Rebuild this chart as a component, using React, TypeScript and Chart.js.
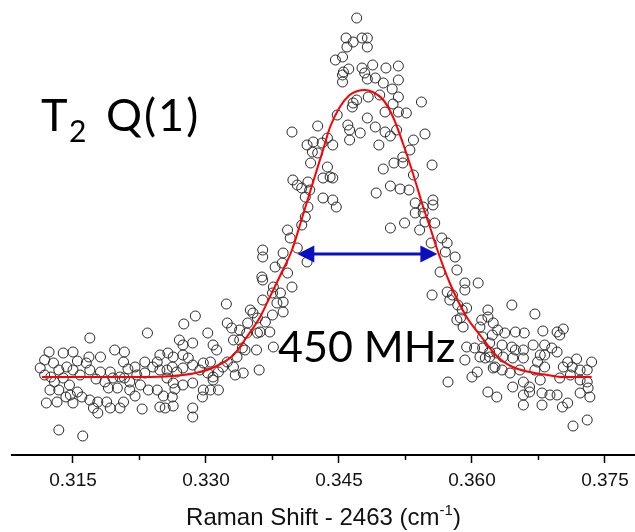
import React, { useEffect, useRef } from "react";
import { Chart, registerables } from "chart.js";

Chart.register(...registerables);

// x: Raman shift - 2463 (cm^-1), y: intensity (arbitrary units, y axis hidden)
const X_MIN = 0.30812;
const X_MAX = 0.37839;
const Y_MIN = 0;
const Y_MAX = 455;
const X_MAJOR_TICKS = [0.315, 0.33, 0.345, 0.36, 0.375];
const X_MINOR_TICKS = [0.3225, 0.3375, 0.3525, 0.3675];

const OBS_LEFT: [number, number][] = [
  [0.3169, 117], [0.3234, 122], [0.3123, 103], [0.3118, 95], [0.3139, 102], [0.315, 103],
  [0.3197, 105], [0.3208, 103], [0.3207, 93], [0.3168, 98], [0.3181, 98], [0.3155, 94],
  [0.3165, 92], [0.3143, 88], [0.3134, 85], [0.3169, 85], [0.3181, 83], [0.3192, 83],
  [0.3203, 78], [0.322, 88], [0.3231, 93], [0.3118, 80], [0.3125, 78], [0.3129, 73],
  [0.3139, 77], [0.315, 85], [0.3158, 80], [0.3186, 73], [0.3195, 77], [0.3208, 77],
  [0.3214, 73], [0.3222, 80], [0.3231, 82], [0.3124, 65], [0.3134, 65], [0.3147, 60],
  [0.3155, 63], [0.319, 67], [0.32, 67], [0.3214, 65], [0.322, 59], [0.3235, 65],
  [0.312, 52], [0.3132, 53], [0.3142, 58], [0.315, 52], [0.316, 58], [0.3169, 55],
  [0.3178, 53], [0.3188, 53], [0.3173, 47], [0.3178, 42], [0.3192, 47], [0.3203, 47],
  [0.3207, 53], [0.3228, 46], [0.3134, 25], [0.3161, 19],
  [0.3113, 87], [0.3128, 92], [0.3146, 70], [0.3176, 76], [0.3212, 86], [0.3226, 70],
];

const OBS_RISE: [number, number][] = [
  [0.3323, 151], [0.3288, 139], [0.3275, 131], [0.3302, 122], [0.327, 115], [0.3274, 110],
  [0.3285, 112], [0.3308, 110], [0.3312, 105], [0.3324, 132], [0.3329, 127], [0.3338, 125],
  [0.3347, 132], [0.3358, 137], [0.335, 145], [0.3367, 133], [0.3364, 155], [0.3375, 162],
  [0.338, 152], [0.3361, 123], [0.3372, 123], [0.3331, 115], [0.3346, 122], [0.3358, 122],
  [0.3338, 115], [0.3341, 107], [0.3335, 98], [0.3324, 93], [0.3331, 88], [0.3344, 105],
  [0.3357, 105], [0.3376, 108], [0.336, 85], [0.3342, 82], [0.3333, 80], [0.3319, 88],
  [0.3314, 83], [0.3308, 78], [0.3305, 93], [0.3297, 92], [0.3293, 85], [0.3285, 90],
  [0.328, 97], [0.3274, 100], [0.3263, 98], [0.3257, 102], [0.3248, 100], [0.3245, 93],
  [0.324, 88], [0.3248, 85], [0.3256, 85], [0.3262, 88], [0.3267, 83], [0.3274, 87],
  [0.3285, 72], [0.3274, 70], [0.3263, 72], [0.3256, 77], [0.3245, 65], [0.3252, 59],
  [0.3262, 58], [0.3265, 66], [0.3297, 65], [0.3296, 58], [0.3305, 65], [0.3314, 65],
  [0.3308, 75], [0.3302, 82], [0.3248, 48], [0.3254, 47], [0.3263, 49], [0.3285, 47],
  [0.3285, 38],
];

const OBS_EDGE: [number, number][] = [
  [0.3397, 323], [0.3426, 329], [0.3448, 340], [0.3414, 310], [0.3421, 313], [0.3431, 312],
  [0.342, 303], [0.3426, 302], [0.3437, 317], [0.3443, 310], [0.3418, 292], [0.3437, 288],
  [0.344, 278], [0.3432, 277], [0.3443, 277], [0.3398, 275], [0.3403, 270], [0.3408, 267],
  [0.3415, 273], [0.3417, 265], [0.3412, 258], [0.3432, 257], [0.3443, 255], [0.3447, 248],
  [0.3415, 248], [0.3412, 238], [0.3408, 230], [0.3392, 225], [0.3395, 217], [0.3364, 205],
  [0.3364, 198], [0.3387, 202], [0.3403, 207], [0.3414, 193], [0.3378, 188], [0.3386, 192],
  [0.3392, 182], [0.3397, 168], [0.3363, 178], [0.3364, 175], [0.3376, 168], [0.3384, 162],
  [0.3387, 153], [0.3387, 143], [0.3375, 140], [0.3353, 142],
];

const OBS_PEAK: [number, number][] = [
  [0.347, 437], [0.3458, 417], [0.3466, 413], [0.3476, 417], [0.3482, 417], [0.3482, 408],
  [0.3459, 408], [0.3454, 398], [0.3446, 395], [0.3461, 386], [0.3455, 383], [0.3454, 380],
  [0.3454, 373], [0.3476, 387], [0.3479, 382], [0.3482, 376], [0.347, 355], [0.3466, 352],
  [0.3465, 348], [0.346, 330], [0.3462, 325], [0.3474, 322], [0.3482, 337], [0.3483, 358],
  [0.3462, 315],
  [0.3488, 390], [0.3503, 387], [0.3517, 389], [0.3491, 377], [0.35, 372], [0.3517, 375],
  [0.351, 366], [0.3496, 360], [0.3517, 358], [0.3511, 351], [0.3502, 343], [0.3517, 343],
  [0.3526, 342], [0.3543, 353], [0.3491, 328], [0.3502, 323], [0.3508, 319], [0.3515, 325],
  [0.3495, 310], [0.3534, 315], [0.3547, 321], [0.353, 305], [0.3522, 298], [0.3512, 292],
  [0.3522, 292], [0.35, 286], [0.3555, 290], [0.3534, 280], [0.3508, 269], [0.3519, 266],
  [0.3529, 265], [0.3492, 262], [0.3536, 252], [0.3545, 248], [0.3556, 255], [0.3556, 250],
  [0.3536, 242], [0.3545, 242], [0.3547, 233], [0.3558, 232], [0.3524, 232], [0.3508, 227],
];

const OBS_FALL: [number, number][] = [
  [0.3541, 225], [0.3566, 217], [0.3554, 212], [0.3572, 212], [0.357, 203], [0.3581, 198],
  [0.3564, 183], [0.3583, 185], [0.3555, 160], [0.3572, 163], [0.3592, 172], [0.3592, 165],
  [0.3607, 172], [0.3578, 160], [0.3575, 155], [0.3584, 150], [0.3589, 145], [0.3594, 147],
  [0.3587, 137], [0.359, 128], [0.3583, 135], [0.3611, 135], [0.3618, 145], [0.3618, 138],
  [0.3624, 132], [0.3609, 128], [0.3612, 118], [0.3623, 120], [0.3629, 125], [0.3594, 108],
  [0.3603, 107], [0.3612, 107], [0.362, 103], [0.3592, 95], [0.3609, 98], [0.362, 98],
  [0.3628, 102], [0.3626, 88], [0.3606, 83], [0.36, 78], [0.3573, 73], [0.3618, 63],
  [0.3628, 58],
];

const OBS_RIGHT: [number, number][] = [
  [0.3645, 150], [0.3671, 141], [0.3637, 122], [0.3649, 123], [0.3659, 122], [0.368, 124],
  [0.3696, 123], [0.3703, 126], [0.3699, 120], [0.362, 112], [0.3634, 110], [0.3645, 108],
  [0.3649, 105], [0.3658, 105], [0.3669, 110], [0.3682, 110], [0.369, 107], [0.3696, 103],
  [0.3677, 100], [0.3682, 100], [0.3615, 97], [0.3635, 98], [0.3646, 97], [0.3658, 97],
  [0.3674, 93], [0.3708, 93], [0.3718, 96], [0.3703, 88], [0.3713, 88], [0.3722, 85],
  [0.373, 85], [0.3735, 93], [0.3624, 87], [0.3634, 85], [0.3643, 82], [0.3654, 85],
  [0.3671, 85], [0.3682, 88], [0.3677, 75], [0.3699, 77], [0.3711, 80], [0.3722, 75],
  [0.373, 73], [0.3731, 67], [0.3646, 68], [0.3658, 73], [0.3665, 68], [0.3665, 63],
  [0.3658, 60], [0.3679, 62], [0.3688, 60], [0.3696, 60], [0.3722, 62], [0.3733, 58],
  [0.3658, 50], [0.3679, 50], [0.3702, 48], [0.3708, 52], [0.373, 35], [0.3714, 29],
];

// Gaussian fit curve
const FIT_SHIFT = [
  0.3115, 0.3181, 0.3237, 0.3274, 0.3293, 0.3312, 0.3331, 0.3346, 0.3361, 0.3372, 0.3384,
  0.3397, 0.3406, 0.3417, 0.3432, 0.344, 0.3451, 0.3462, 0.3471, 0.3479, 0.3488, 0.35,
  0.3511, 0.3522, 0.3534, 0.3545, 0.3553, 0.3561, 0.3575, 0.3594, 0.3609, 0.3629, 0.3646,
  0.3665, 0.3685, 0.3703, 0.3735,
];
const FIT_INTENSITY = [
  78, 78, 78, 80, 83, 89, 100, 118, 138, 158, 180, 205, 230, 262, 305, 328, 348, 360, 364,
  365, 363, 355, 338, 312, 280, 248, 227, 205, 172, 138, 120, 98, 88, 83, 80, 78, 78,
];

// FWHM arrow
const ARROW_SHIFT = [0.3403, 0.3561];
const ARROW_INTENSITY = 201;

const LABEL_LINE = "T";
const LABEL_SUB = "2";
const LABEL_REST = "Q(1)";
const WIDTH_LABEL = "450 MHz";
const AXIS_TITLE = "Raman Shift - 2463 (cm";
const AXIS_TITLE_SUP = "-1";

const decorations = {
  id: "decorations",
  afterDatasetsDraw(chart: any) {
    const { ctx, chartArea, scales } = chart;
    const xs = scales.x;
    const ys = scales.y;
    ctx.save();
    // minor ticks
    ctx.strokeStyle = "#000";
    ctx.lineWidth = 1.5;
    for (const v of X_MINOR_TICKS) {
      const px = Math.round(xs.getPixelForValue(v)) + 0.5;
      ctx.beginPath();
      ctx.moveTo(px, chartArea.bottom);
      ctx.lineTo(px, chartArea.bottom + 5);
      ctx.stroke();
    }
    // FWHM arrow
    const y = ys.getPixelForValue(ARROW_INTENSITY);
    const x1 = xs.getPixelForValue(ARROW_SHIFT[0]);
    const x2 = xs.getPixelForValue(ARROW_SHIFT[1]);
    const head = 17;
    const half = 8.5;
    ctx.strokeStyle = "#0a10c0";
    ctx.fillStyle = "#0a10c0";
    ctx.lineWidth = 3;
    ctx.beginPath();
    ctx.moveTo(x1 + head - 2, y);
    ctx.lineTo(x2 - head + 2, y);
    ctx.stroke();
    ctx.beginPath();
    ctx.moveTo(x1, y);
    ctx.lineTo(x1 + head, y - half);
    ctx.lineTo(x1 + head, y + half);
    ctx.closePath();
    ctx.fill();
    ctx.beginPath();
    ctx.moveTo(x2, y);
    ctx.lineTo(x2 - head, y - half);
    ctx.lineTo(x2 - head, y + half);
    ctx.closePath();
    ctx.fill();
    ctx.restore();
  },
  afterDraw(chart: any) {
    const { ctx, chartArea } = chart;
    ctx.save();
    ctx.fillStyle = "#000";
    ctx.textBaseline = "alphabetic";
    ctx.textAlign = "left";
    // T2 Q(1)
    const big = '45px Lato, "Open Sans", sans-serif';
    const small = '30px Lato, "Open Sans", sans-serif';
    const by = 131;
    ctx.font = big;
    ctx.fillText(LABEL_LINE, 41, by);
    ctx.font = small;
    ctx.fillText(LABEL_SUB, 69, by + 11);
    ctx.font = big;
    (ctx as any).letterSpacing = "2px";
    ctx.fillText(LABEL_REST, 106, by);
    (ctx as any).letterSpacing = "0px";
    // 450 MHz
    ctx.font = '43px Lato, "Open Sans", sans-serif';
    ctx.fillText(WIDTH_LABEL, 278, 362);
    // axis title with superscript
    const tf = '24px "Liberation Sans", Arial, sans-serif';
    const sf = '15px "Liberation Sans", Arial, sans-serif';
    ctx.font = tf;
    const w1 = ctx.measureText(AXIS_TITLE).width;
    const w3 = ctx.measureText(")").width;
    ctx.font = sf;
    const w2 = ctx.measureText(AXIS_TITLE_SUP).width;
    const cx = (chartArea.left + chartArea.right) / 2;
    let tx = cx - (w1 + w2 + w3) / 2;
    const ty = 525;
    ctx.font = tf;
    ctx.fillStyle = "#111";
    ctx.fillText(AXIS_TITLE, tx, ty);
    tx += w1;
    ctx.font = sf;
    ctx.fillText(AXIS_TITLE_SUP, tx, ty - 10);
    tx += w2;
    ctx.font = tf;
    ctx.fillText(")", tx, ty);
    ctx.restore();
  },
};

export default function App() {
  const ref = useRef<HTMLCanvasElement>(null);
  useEffect(() => {
    document.body.style.margin = "0";
    const obs = [...OBS_LEFT, ...OBS_RISE, ...OBS_EDGE, ...OBS_PEAK, ...OBS_FALL, ...OBS_RIGHT].map(
      ([x, y]) => ({ x, y })
    );
    const fit = FIT_SHIFT.map((x, i) => ({ x, y: FIT_INTENSITY[i] }));
    const chart = new Chart(ref.current!, {
      type: "scatter",
      data: {
        datasets: [
          {
            type: "line",
            data: fit,
            borderColor: "#ff0000",
            borderWidth: 2,
            pointRadius: 0,
            cubicInterpolationMode: "monotone",
            order: 0,
          } as any,
          {
            data: obs,
            pointRadius: 5,
            pointBorderWidth: 1,
            pointBorderColor: "#2a2a2a",
            pointBackgroundColor: "rgba(0,0,0,0)",
            order: 1,
          },
        ],
      },
      options: {
        animation: false,
        responsive: false,
        events: [],
        layout: { autoPadding: false, padding: { left: 12, right: 0, top: 0, bottom: 0 } },
        plugins: { legend: { display: false }, tooltip: { enabled: false } },
        scales: {
          x: {
            type: "linear",
            min: X_MIN,
            max: X_MAX,
            afterBuildTicks: (s: any) => {
              s.ticks = X_MAJOR_TICKS.map((v) => ({ value: v }));
            },
            afterFit: (s: any) => {
              s.height = 77;
            },
            ticks: {
              autoSkip: false,
              maxRotation: 0,
              padding: 6,
              color: "#111",
              font: { family: '"Liberation Sans", Arial, sans-serif', size: 19 },
              callback: (v: any) => Number(v).toFixed(3),
            },
            grid: {
              drawOnChartArea: false,
              drawTicks: true,
              tickLength: 8,
              tickWidth: 1.5,
              tickColor: "#000",
            },
            border: { display: true, color: "#000", width: 2 },
          },
          y: {
            display: false,
            min: Y_MIN,
            max: Y_MAX,
          },
        },
      },
      plugins: [decorations],
    });
    return () => chart.destroy();
  }, []);
  return <canvas ref={ref} width={635} height={532} style={{ display: "block" }} />;
}
